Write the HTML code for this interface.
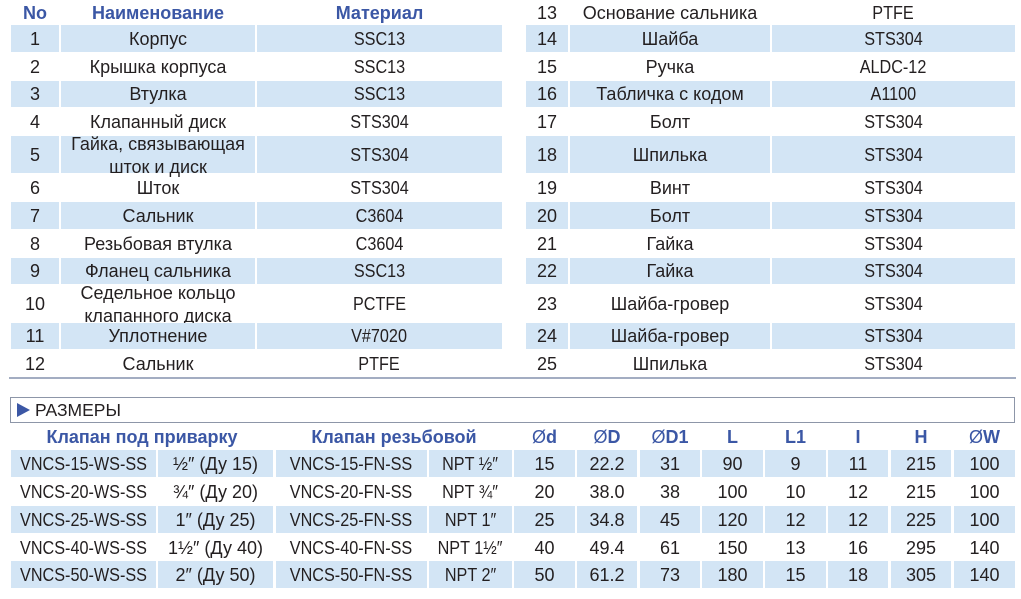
<!DOCTYPE html>
<html><head><meta charset="utf-8">
<style>
html,body{margin:0;padding:0;background:#fff;}
body{width:1021px;height:599px;position:relative;overflow:hidden;font-family:"Liberation Sans","DejaVu Sans",sans-serif;color:#231f20;}
.c{position:absolute;display:flex;align-items:center;justify-content:center;text-align:center;font-size:18px;line-height:22px;white-space:nowrap;}
.b{background:#d3e5f5;}
.h{font-weight:bold;color:#3b57a5;}
.l{display:inline-block;transform:scaleX(0.9);}
.t2{flex-direction:column;line-height:23px;padding-top:3px;box-sizing:border-box;}
</style></head><body>

<!-- Left table header -->
<div class="c h" style="left:11px;top:0;width:48px;height:25px;">No</div>
<div class="c h" style="left:61px;top:0;width:194px;height:25px;">Наименование</div>
<div class="c h" style="left:257px;top:0;width:245px;height:25px;">Материал</div>

<!-- Left rows -->
<div class="c b" style="left:11px;top:25px;width:48px;height:27px;">1</div>
<div class="c b" style="left:61px;top:25px;width:194px;height:27px;">Корпус</div>
<div class="c b" style="left:257px;top:25px;width:245px;height:27px;"><span class="l">SSC13</span></div>

<div class="c" style="left:11px;top:53px;width:48px;height:27px;">2</div>
<div class="c" style="left:61px;top:53px;width:194px;height:27px;">Крышка корпуса</div>
<div class="c" style="left:257px;top:53px;width:245px;height:27px;"><span class="l">SSC13</span></div>

<div class="c b" style="left:11px;top:81px;width:48px;height:26px;">3</div>
<div class="c b" style="left:61px;top:81px;width:194px;height:26px;">Втулка</div>
<div class="c b" style="left:257px;top:81px;width:245px;height:26px;"><span class="l">SSC13</span></div>

<div class="c" style="left:11px;top:108px;width:48px;height:27px;">4</div>
<div class="c" style="left:61px;top:108px;width:194px;height:27px;">Клапанный диск</div>
<div class="c" style="left:257px;top:108px;width:245px;height:27px;"><span class="l">STS304</span></div>

<div class="c b" style="left:11px;top:136px;width:48px;height:37px;">5</div>
<div class="c b t2" style="left:61px;top:136px;width:194px;height:37px;"><div>Гайка, связывающая</div><div>шток и диск</div></div>
<div class="c b" style="left:257px;top:136px;width:245px;height:37px;"><span class="l">STS304</span></div>

<div class="c" style="left:11px;top:174px;width:48px;height:27px;">6</div>
<div class="c" style="left:61px;top:174px;width:194px;height:27px;">Шток</div>
<div class="c" style="left:257px;top:174px;width:245px;height:27px;"><span class="l">STS304</span></div>

<div class="c b" style="left:11px;top:202px;width:48px;height:27px;">7</div>
<div class="c b" style="left:61px;top:202px;width:194px;height:27px;">Сальник</div>
<div class="c b" style="left:257px;top:202px;width:245px;height:27px;"><span class="l">C3604</span></div>

<div class="c" style="left:11px;top:230px;width:48px;height:27px;">8</div>
<div class="c" style="left:61px;top:230px;width:194px;height:27px;">Резьбовая втулка</div>
<div class="c" style="left:257px;top:230px;width:245px;height:27px;"><span class="l">C3604</span></div>

<div class="c b" style="left:11px;top:258px;width:48px;height:26px;">9</div>
<div class="c b" style="left:61px;top:258px;width:194px;height:26px;">Фланец сальника</div>
<div class="c b" style="left:257px;top:258px;width:245px;height:26px;"><span class="l">SSC13</span></div>

<div class="c" style="left:11px;top:285px;width:48px;height:37px;">10</div>
<div class="c t2" style="left:61px;top:285px;width:194px;height:37px;"><div>Седельное кольцо</div><div>клапанного диска</div></div>
<div class="c" style="left:257px;top:285px;width:245px;height:37px;"><span class="l">PCTFE</span></div>

<div class="c b" style="left:11px;top:323px;width:48px;height:26px;">11</div>
<div class="c b" style="left:61px;top:323px;width:194px;height:26px;">Уплотнение</div>
<div class="c b" style="left:257px;top:323px;width:245px;height:26px;"><span class="l">V#7020</span></div>

<div class="c" style="left:11px;top:350px;width:48px;height:27px;">12</div>
<div class="c" style="left:61px;top:350px;width:194px;height:27px;">Сальник</div>
<div class="c" style="left:257px;top:350px;width:245px;height:27px;"><span class="l">PTFE</span></div>

<!-- Right rows -->
<div class="c" style="left:526px;top:0;width:42px;height:25px;">13</div>
<div class="c" style="left:570px;top:0;width:200px;height:25px;">Основание сальника</div>
<div class="c" style="left:772px;top:0;width:243px;height:25px;"><span class="l">PTFE</span></div>

<div class="c b" style="left:526px;top:25px;width:42px;height:27px;">14</div>
<div class="c b" style="left:570px;top:25px;width:200px;height:27px;">Шайба</div>
<div class="c b" style="left:772px;top:25px;width:243px;height:27px;"><span class="l">STS304</span></div>

<div class="c" style="left:526px;top:53px;width:42px;height:27px;">15</div>
<div class="c" style="left:570px;top:53px;width:200px;height:27px;">Ручка</div>
<div class="c" style="left:772px;top:53px;width:243px;height:27px;"><span class="l">ALDC-12</span></div>

<div class="c b" style="left:526px;top:81px;width:42px;height:26px;">16</div>
<div class="c b" style="left:570px;top:81px;width:200px;height:26px;">Табличка с кодом</div>
<div class="c b" style="left:772px;top:81px;width:243px;height:26px;"><span class="l">A1100</span></div>

<div class="c" style="left:526px;top:108px;width:42px;height:27px;">17</div>
<div class="c" style="left:570px;top:108px;width:200px;height:27px;">Болт</div>
<div class="c" style="left:772px;top:108px;width:243px;height:27px;"><span class="l">STS304</span></div>

<div class="c b" style="left:526px;top:136px;width:42px;height:37px;">18</div>
<div class="c b" style="left:570px;top:136px;width:200px;height:37px;">Шпилька</div>
<div class="c b" style="left:772px;top:136px;width:243px;height:37px;"><span class="l">STS304</span></div>

<div class="c" style="left:526px;top:174px;width:42px;height:27px;">19</div>
<div class="c" style="left:570px;top:174px;width:200px;height:27px;">Винт</div>
<div class="c" style="left:772px;top:174px;width:243px;height:27px;"><span class="l">STS304</span></div>

<div class="c b" style="left:526px;top:202px;width:42px;height:27px;">20</div>
<div class="c b" style="left:570px;top:202px;width:200px;height:27px;">Болт</div>
<div class="c b" style="left:772px;top:202px;width:243px;height:27px;"><span class="l">STS304</span></div>

<div class="c" style="left:526px;top:230px;width:42px;height:27px;">21</div>
<div class="c" style="left:570px;top:230px;width:200px;height:27px;">Гайка</div>
<div class="c" style="left:772px;top:230px;width:243px;height:27px;"><span class="l">STS304</span></div>

<div class="c b" style="left:526px;top:258px;width:42px;height:26px;">22</div>
<div class="c b" style="left:570px;top:258px;width:200px;height:26px;">Гайка</div>
<div class="c b" style="left:772px;top:258px;width:243px;height:26px;"><span class="l">STS304</span></div>

<div class="c" style="left:526px;top:285px;width:42px;height:37px;">23</div>
<div class="c" style="left:570px;top:285px;width:200px;height:37px;">Шайба-гровер</div>
<div class="c" style="left:772px;top:285px;width:243px;height:37px;"><span class="l">STS304</span></div>

<div class="c b" style="left:526px;top:323px;width:42px;height:26px;">24</div>
<div class="c b" style="left:570px;top:323px;width:200px;height:26px;">Шайба-гровер</div>
<div class="c b" style="left:772px;top:323px;width:243px;height:26px;"><span class="l">STS304</span></div>

<div class="c" style="left:526px;top:350px;width:42px;height:27px;">25</div>
<div class="c" style="left:570px;top:350px;width:200px;height:27px;">Шпилька</div>
<div class="c" style="left:772px;top:350px;width:243px;height:27px;"><span class="l">STS304</span></div>

<!-- separator line -->
<div style="position:absolute;left:9px;top:377px;width:1007px;height:2px;background:#a3adc2;"></div>

<!-- РАЗМЕРЫ box -->
<div style="position:absolute;left:10px;top:397px;width:1003px;height:24px;border:1px solid #8d96a8;"></div>
<div style="position:absolute;left:17px;top:403px;width:0;height:0;border-top:7px solid transparent;border-bottom:7px solid transparent;border-left:13px solid #3b57a5;"></div>
<div class="c" style="left:35px;top:398px;height:24px;justify-content:flex-start;font-size:17.5px;">РАЗМЕРЫ</div>

<!-- bottom header -->
<div class="c h" style="left:11px;top:426px;width:262px;height:22px;">Клапан под приварку</div>
<div class="c h" style="left:276px;top:426px;width:236px;height:22px;">Клапан резьбовой</div>
<div class="c h" style="left:514px;top:426px;width:61px;height:22px;"><span style="font-weight:normal">Ø</span>d</div>
<div class="c h" style="left:577px;top:426px;width:60px;height:22px;"><span style="font-weight:normal">Ø</span>D</div>
<div class="c h" style="left:640px;top:426px;width:60px;height:22px;"><span style="font-weight:normal">Ø</span>D1</div>
<div class="c h" style="left:702px;top:426px;width:61px;height:22px;">L</div>
<div class="c h" style="left:765px;top:426px;width:61px;height:22px;">L1</div>
<div class="c h" style="left:828px;top:426px;width:60px;height:22px;">I</div>
<div class="c h" style="left:891px;top:426px;width:60px;height:22px;">H</div>
<div class="c h" style="left:954px;top:426px;width:61px;height:22px;"><span style="font-weight:normal">Ø</span>W</div>

<!-- bottom row 1 -->
<div class="c b" style="left:11px;top:450px;width:145px;height:27px;"><span class="l">VNCS-15-WS-SS</span></div>
<div class="c b" style="left:158px;top:450px;width:115px;height:27px;">½″ (Ду 15)</div>
<div class="c b" style="left:276px;top:450px;width:151px;height:27px;"><span class="l">VNCS-15-FN-SS</span></div>
<div class="c b" style="left:429px;top:450px;width:83px;height:27px;"><span class="l">NPT ½″</span></div>
<div class="c b" style="left:514px;top:450px;width:61px;height:27px;">15</div>
<div class="c b" style="left:577px;top:450px;width:60px;height:27px;">22.2</div>
<div class="c b" style="left:640px;top:450px;width:60px;height:27px;">31</div>
<div class="c b" style="left:702px;top:450px;width:61px;height:27px;">90</div>
<div class="c b" style="left:765px;top:450px;width:61px;height:27px;">9</div>
<div class="c b" style="left:828px;top:450px;width:60px;height:27px;">11</div>
<div class="c b" style="left:891px;top:450px;width:60px;height:27px;">215</div>
<div class="c b" style="left:954px;top:450px;width:61px;height:27px;">100</div>

<!-- bottom row 2 -->
<div class="c" style="left:11px;top:478px;width:145px;height:27px;"><span class="l">VNCS-20-WS-SS</span></div>
<div class="c" style="left:158px;top:478px;width:115px;height:27px;">¾″ (Ду 20)</div>
<div class="c" style="left:276px;top:478px;width:151px;height:27px;"><span class="l">VNCS-20-FN-SS</span></div>
<div class="c" style="left:429px;top:478px;width:83px;height:27px;"><span class="l">NPT ¾″</span></div>
<div class="c" style="left:514px;top:478px;width:61px;height:27px;">20</div>
<div class="c" style="left:577px;top:478px;width:60px;height:27px;">38.0</div>
<div class="c" style="left:640px;top:478px;width:60px;height:27px;">38</div>
<div class="c" style="left:702px;top:478px;width:61px;height:27px;">100</div>
<div class="c" style="left:765px;top:478px;width:61px;height:27px;">10</div>
<div class="c" style="left:828px;top:478px;width:60px;height:27px;">12</div>
<div class="c" style="left:891px;top:478px;width:60px;height:27px;">215</div>
<div class="c" style="left:954px;top:478px;width:61px;height:27px;">100</div>

<!-- bottom row 3 -->
<div class="c b" style="left:11px;top:506px;width:145px;height:27px;"><span class="l">VNCS-25-WS-SS</span></div>
<div class="c b" style="left:158px;top:506px;width:115px;height:27px;">1″ (Ду 25)</div>
<div class="c b" style="left:276px;top:506px;width:151px;height:27px;"><span class="l">VNCS-25-FN-SS</span></div>
<div class="c b" style="left:429px;top:506px;width:83px;height:27px;"><span class="l">NPT 1″</span></div>
<div class="c b" style="left:514px;top:506px;width:61px;height:27px;">25</div>
<div class="c b" style="left:577px;top:506px;width:60px;height:27px;">34.8</div>
<div class="c b" style="left:640px;top:506px;width:60px;height:27px;">45</div>
<div class="c b" style="left:702px;top:506px;width:61px;height:27px;">120</div>
<div class="c b" style="left:765px;top:506px;width:61px;height:27px;">12</div>
<div class="c b" style="left:828px;top:506px;width:60px;height:27px;">12</div>
<div class="c b" style="left:891px;top:506px;width:60px;height:27px;">225</div>
<div class="c b" style="left:954px;top:506px;width:61px;height:27px;">100</div>

<!-- bottom row 4 -->
<div class="c" style="left:11px;top:534px;width:145px;height:27px;"><span class="l">VNCS-40-WS-SS</span></div>
<div class="c" style="left:158px;top:534px;width:115px;height:27px;">1½″ (Ду 40)</div>
<div class="c" style="left:276px;top:534px;width:151px;height:27px;"><span class="l">VNCS-40-FN-SS</span></div>
<div class="c" style="left:429px;top:534px;width:83px;height:27px;"><span class="l">NPT 1½″</span></div>
<div class="c" style="left:514px;top:534px;width:61px;height:27px;">40</div>
<div class="c" style="left:577px;top:534px;width:60px;height:27px;">49.4</div>
<div class="c" style="left:640px;top:534px;width:60px;height:27px;">61</div>
<div class="c" style="left:702px;top:534px;width:61px;height:27px;">150</div>
<div class="c" style="left:765px;top:534px;width:61px;height:27px;">13</div>
<div class="c" style="left:828px;top:534px;width:60px;height:27px;">16</div>
<div class="c" style="left:891px;top:534px;width:60px;height:27px;">295</div>
<div class="c" style="left:954px;top:534px;width:61px;height:27px;">140</div>

<!-- bottom row 5 -->
<div class="c b" style="left:11px;top:561px;width:145px;height:27px;"><span class="l">VNCS-50-WS-SS</span></div>
<div class="c b" style="left:158px;top:561px;width:115px;height:27px;">2″ (Ду 50)</div>
<div class="c b" style="left:276px;top:561px;width:151px;height:27px;"><span class="l">VNCS-50-FN-SS</span></div>
<div class="c b" style="left:429px;top:561px;width:83px;height:27px;"><span class="l">NPT 2″</span></div>
<div class="c b" style="left:514px;top:561px;width:61px;height:27px;">50</div>
<div class="c b" style="left:577px;top:561px;width:60px;height:27px;">61.2</div>
<div class="c b" style="left:640px;top:561px;width:60px;height:27px;">73</div>
<div class="c b" style="left:702px;top:561px;width:61px;height:27px;">180</div>
<div class="c b" style="left:765px;top:561px;width:61px;height:27px;">15</div>
<div class="c b" style="left:828px;top:561px;width:60px;height:27px;">18</div>
<div class="c b" style="left:891px;top:561px;width:60px;height:27px;">305</div>
<div class="c b" style="left:954px;top:561px;width:61px;height:27px;">140</div>

</body></html>
